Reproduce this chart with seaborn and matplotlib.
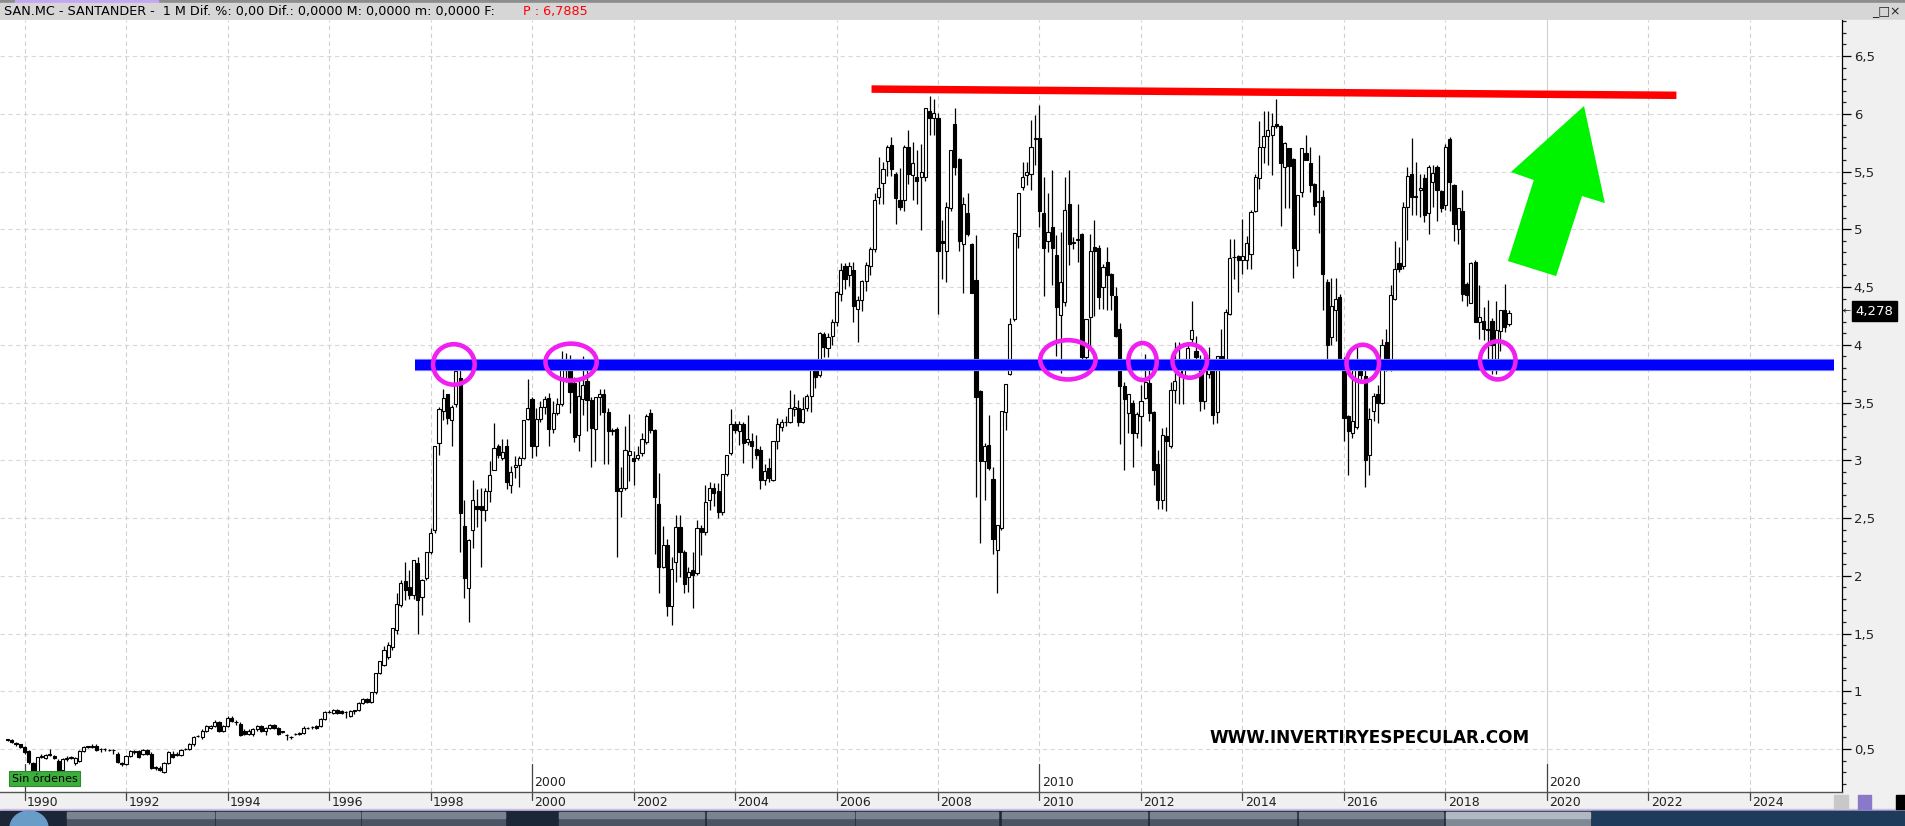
import numpy as np
import pandas as pd
import seaborn as sns
import matplotlib.pyplot as plt
from matplotlib.patches import Rectangle, Ellipse, Polygon
from matplotlib.ticker import MultipleLocator, FuncFormatter

# Monthly candles SAN.MC, Sep 1989 .. Apr 2019 (12 per row)
opens = [
    .58, .58, .55, .54, .52, .48, .38, .31, .43, .42, .45, .44,
    .40, .32, .41, .42, .38, .40, .48, .52, .52, .53, .50, .50,
    .49, .49, .46, .38, .37, .44, .47, .48, .46, .49, .46, .34,
    .34, .30, .38, .46, .45, .45, .50, .50, .54, .61, .60, .66,
    .68, .70, .73, .66, .70, .77, .73, .72, .66, .63, .63, .67,
    .70, .66, .68, .71, .68, .65, .62, .60, .63, .64, .64, .68,
    .69, .70, .70, .76, .82, .81, .84, .83, .82, .79, .83, .84,
    .90, .93, .91, .99, 1.16, 1.23, 1.30, 1.38, 1.53, 1.75, 1.955, 1.90,
    1.83, 2.11, 1.82, 1.98, 2.21, 2.40, 3.15, 3.43, 3.57, 3.35, 3.49, 3.71,
    2.43, 1.89, 2.40, 2.60, 2.60, 2.57, 2.73, 2.92, 3.12, 3.02, 3.12, 2.79,
    2.94, 2.96, 3.02, 3.36, 3.53, 3.12, 3.36, 3.46, 3.54, 3.27, 3.41, 3.49,
    3.85, 3.85, 3.67, 3.22, 3.53, 3.69, 3.52, 3.27, 3.55, 3.57, 3.42, 3.26,
    3.27, 2.73, 2.76, 3.05, 3.02, 3.02, 3.06, 3.16, 3.41, 3.26, 2.62, 2.08,
    2.27, 1.74, 2.12, 2.42, 2.21, 1.99, 2.05, 2.02, 2.41, 2.38, 2.66, 2.76,
    2.73, 2.55, 2.88, 3.06, 3.31, 3.25, 3.31, 3.16, 3.17, 3.10, 3.09, 2.83,
    2.93, 2.83, 3.17, 3.29, 3.33, 3.33, 3.44, 3.45, 3.33, 3.45, 3.56, 3.79,
    3.74, 4.09, 3.97, 4.08, 4.20, 4.44, 4.68, 4.60, 4.65, 4.31, 4.39, 4.55,
    4.68, 4.83, 5.28, 5.40, 5.59, 5.73, 5.48, 5.25, 5.25, 5.71, 5.47, 5.45,
    5.45, 5.45, 6.02, 5.96, 5.96, 4.90, 4.81, 5.18, 5.91, 5.61, 4.87, 5.14,
    4.87, 4.56, 3.60, 2.99, 3.13, 2.84, 2.22, 2.41, 3.42, 3.75, 4.22, 4.94,
    5.37, 5.47, 5.48, 5.78, 5.79, 5.14, 4.90, 5.02, 4.78, 4.26, 4.37, 5.22,
    4.88, 4.91, 4.96, 3.89, 4.24, 4.85, 4.84, 4.50, 4.72, 4.61, 4.42, 4.14,
    3.64, 3.41, 3.50, 3.24, 3.38, 3.54, 3.67, 3.42, 2.97, 2.66, 3.21, 3.12,
    3.61, 3.75, 3.74, 3.87, 4.05, 3.95, 3.85, 3.51, 3.75, 3.85, 3.42, 3.90,
    3.81, 4.27, 4.76, 4.77, 4.73, 4.73, 4.79, 5.16, 5.44, 5.71, 5.81, 5.82,
    5.91, 5.89, 5.54, 5.70, 5.61, 4.82, 5.32, 5.66, 5.57, 5.39, 5.24, 5.28,
    4.54, 4.07, 4.30, 4.41, 3.88, 3.38, 3.24, 3.29, 3.84, 3.73, 3.05, 3.43,
    3.57, 3.50, 4.02, 3.87, 4.40, 4.71, 4.68, 5.19, 5.48, 5.28, 5.34, 5.44,
    5.14, 5.41, 5.54, 5.33, 5.21, 5.78, 5.38, 5.00, 5.16, 4.53, 4.36, 4.72,
    4.20, 4.21, 4.14, 4.21, 3.88, 4.12, 4.30, 4.18,
]
highs = [
    .59, .59, .56, .54, .53, .49, .39, .43, .46, .46, .50, .45,
    .41, .42, .44, .44, .43, .49, .53, .53, .54, .54, .51, .51,
    .50, .50, .47, .39, .45, .49, .49, .49, .50, .50, .47, .35,
    .35, .39, .48, .48, .47, .50, .51, .55, .61, .62, .67, .71,
    .71, .75, .74, .71, .79, .79, .75, .73, .67, .67, .68, .71,
    .71, .69, .72, .72, .69, .66, .63, .61, .64, .65, .70, .69,
    .70, .71, .77, .83, .84, .85, .85, .84, .83, .84, .84, .91,
    .94, .94, .99, 1.16, 1.26, 1.39, 1.43, 1.55, 1.85, 1.96, 2.12, 2.05,
    2.14, 2.16, 1.97, 2.21, 2.41, 3.12, 3.46, 3.62, 3.57, 3.48, 3.86, 3.85,
    2.66, 2.32, 2.83, 2.75, 2.76, 2.76, 2.99, 3.32, 3.14, 3.18, 3.18, 2.95,
    3.04, 3.04, 3.35, 3.70, 3.55, 3.45, 3.51, 3.56, 3.58, 3.51, 3.54, 3.95,
    3.93, 3.91, 3.72, 3.70, 3.90, 3.88, 3.55, 3.55, 3.62, 3.62, 3.45, 3.28,
    3.29, 2.94, 3.30, 3.40, 3.08, 3.12, 3.24, 3.40, 3.44, 3.27, 2.89, 2.43,
    2.32, 2.16, 2.53, 2.53, 2.22, 2.08, 2.21, 2.48, 2.44, 2.79, 2.81, 2.80,
    2.80, 2.88, 3.05, 3.44, 3.34, 3.34, 3.33, 3.39, 3.24, 3.22, 3.12, 2.97,
    3.02, 3.17, 3.37, 3.36, 3.38, 3.61, 3.57, 3.52, 3.55, 3.57, 3.81, 3.80,
    4.11, 4.11, 4.10, 4.22, 4.47, 4.71, 4.71, 4.72, 4.72, 4.42, 4.56, 4.72,
    4.85, 5.31, 5.63, 5.58, 5.73, 5.80, 5.50, 5.53, 5.73, 5.86, 5.76, 5.69,
    5.74, 6.05, 6.15, 6.13, 6.01, 5.08, 5.24, 5.69, 6.05, 5.62, 5.28, 5.31,
    4.88, 4.95, 3.61, 3.15, 3.39, 2.94, 2.44, 3.43, 3.66, 4.23, 4.97, 5.31,
    5.58, 5.58, 5.95, 5.99, 6.08, 5.45, 5.31, 5.51, 4.95, 4.98, 5.45, 5.51,
    4.93, 5.22, 4.97, 4.22, 4.96, 5.08, 4.86, 4.70, 4.85, 4.62, 4.50, 4.19,
    3.68, 3.57, 3.52, 3.42, 3.65, 3.92, 3.82, 3.43, 3.09, 3.28, 3.29, 3.68,
    4.02, 4.02, 3.88, 4.00, 4.38, 4.08, 3.91, 3.91, 3.98, 3.88, 3.90, 4.14,
    4.31, 4.92, 4.92, 4.78, 5.09, 4.94, 5.17, 5.48, 5.94, 6.02, 6.02, 6.01,
    6.13, 5.90, 5.76, 5.70, 5.62, 5.30, 5.70, 5.82, 5.71, 5.40, 5.64, 5.34,
    4.57, 4.58, 4.58, 4.44, 3.89, 3.39, 3.85, 4.00, 3.88, 3.78, 3.45, 3.58,
    3.65, 4.05, 4.14, 4.52, 4.90, 4.85, 5.24, 5.54, 5.79, 5.58, 5.48, 5.48,
    5.56, 5.56, 5.56, 5.34, 5.74, 5.80, 5.39, 5.18, 5.34, 4.54, 4.72, 4.73,
    4.52, 4.33, 4.39, 4.23, 4.38, 4.30, 4.53, 4.30,
]
lows = [
    .57, .55, .53, .51, .46, .37, .28, .30, .42, .41, .44, .41,
    .31, .31, .40, .41, .36, .39, .47, .51, .51, .48, .47, .48,
    .48, .46, .38, .35, .36, .43, .46, .42, .45, .45, .33, .32,
    .31, .29, .37, .42, .44, .44, .49, .49, .53, .60, .59, .65,
    .67, .69, .65, .65, .69, .73, .71, .61, .62, .62, .61, .66,
    .65, .62, .67, .67, .62, .64, .58, .59, .62, .62, .63, .67,
    .67, .67, .69, .75, .81, .80, .80, .80, .77, .78, .80, .83,
    .89, .90, .90, .98, 1.15, 1.22, 1.28, 1.36, 1.50, 1.73, 1.79, 1.80,
    1.80, 1.50, 1.66, 1.96, 2.19, 2.37, 3.05, 3.35, 3.31, 3.12, 3.46, 2.21,
    1.81, 1.60, 2.24, 2.42, 2.08, 2.47, 2.64, 2.92, 3.02, 3.00, 2.75, 2.72,
    2.85, 2.77, 3.01, 3.35, 3.02, 3.04, 3.33, 3.40, 3.12, 3.24, 3.39, 3.47,
    3.68, 3.41, 3.16, 3.08, 3.39, 3.25, 2.94, 2.99, 3.39, 2.97, 2.97, 3.22,
    2.16, 2.51, 2.74, 2.82, 2.79, 3.00, 3.04, 3.14, 3.24, 2.19, 1.85, 2.07,
    1.65, 1.57, 1.95, 1.99, 1.85, 1.86, 1.72, 2.01, 2.18, 2.35, 2.57, 2.60,
    2.50, 2.53, 2.86, 3.05, 3.24, 3.13, 2.98, 3.13, 2.93, 3.01, 2.75, 2.79,
    2.81, 2.82, 3.10, 3.25, 3.30, 3.32, 3.38, 3.30, 3.32, 3.43, 3.42, 3.63,
    3.72, 3.89, 3.89, 4.00, 4.16, 4.38, 4.48, 4.51, 4.20, 4.02, 4.29, 4.47,
    4.60, 4.80, 5.22, 5.22, 5.46, 5.46, 5.05, 5.17, 5.16, 5.39, 5.25, 5.22,
    4.99, 5.42, 5.82, 5.82, 4.27, 4.57, 4.54, 5.16, 5.47, 4.81, 4.45, 4.94,
    4.45, 2.68, 2.28, 2.66, 2.92, 2.19, 1.85, 2.40, 3.26, 3.74, 4.21, 4.84,
    5.34, 5.38, 5.34, 5.56, 5.02, 4.42, 4.80, 4.52, 3.90, 3.76, 4.34, 4.69,
    4.83, 4.72, 3.80, 3.86, 3.96, 4.25, 4.31, 4.31, 4.30, 4.30, 4.07, 3.14,
    2.92, 3.24, 2.94, 3.19, 3.12, 3.53, 3.34, 2.79, 2.58, 2.58, 2.56, 3.11,
    3.50, 3.49, 3.49, 3.79, 4.02, 3.84, 3.43, 3.44, 3.71, 3.31, 3.32, 3.79,
    3.79, 4.26, 4.57, 4.46, 4.61, 4.66, 4.66, 5.15, 5.35, 5.57, 5.56, 5.47,
    5.88, 5.03, 5.18, 5.18, 4.58, 4.68, 5.28, 5.60, 5.32, 5.12, 4.97, 4.30,
    3.86, 4.00, 4.03, 3.88, 3.17, 2.87, 3.19, 3.27, 3.70, 2.77, 2.87, 3.34,
    3.32, 3.49, 3.77, 3.77, 4.39, 4.63, 4.66, 4.91, 5.12, 5.12, 5.11, 5.06,
    4.96, 5.19, 5.07, 5.15, 5.17, 5.16, 4.90, 4.87, 4.38, 4.34, 4.36, 4.20,
    4.05, 4.04, 3.88, 3.75, 3.75, 3.95, 4.11, 4.16,
]
closes = [
    .58, .56, .54, .52, .47, .39, .31, .43, .44, .45, .45, .42,
    .32, .41, .42, .43, .42, .48, .52, .52, .53, .49, .50, .50,
    .49, .49, .39, .37, .44, .48, .48, .43, .49, .46, .34, .34,
    .32, .38, .47, .43, .46, .49, .50, .54, .60, .61, .66, .70,
    .70, .73, .66, .70, .77, .74, .73, .62, .63, .66, .67, .70,
    .66, .68, .71, .68, .63, .65, .62, .60, .63, .63, .68, .68,
    .69, .68, .76, .82, .82, .84, .81, .81, .82, .83, .83, .90,
    .93, .91, .99, 1.16, 1.26, 1.36, 1.40, 1.545, 1.755, 1.94, 1.88, 1.83,
    2.14, 1.79, 1.96, 2.21, 2.37, 3.12, 3.44, 3.54, 3.37, 3.46, 3.77, 2.54,
    1.98, 2.31, 2.66, 2.58, 2.57, 2.73, 2.87, 3.11, 3.05, 3.07, 2.81, 2.90,
    2.96, 3.02, 3.35, 3.45, 3.12, 3.36, 3.46, 3.53, 3.27, 3.41, 3.49, 3.87,
    3.87, 3.59, 3.20, 3.56, 3.65, 3.52, 3.28, 3.55, 3.57, 3.42, 3.25, 3.25,
    2.73, 2.76, 3.09, 3.08, 2.99, 3.05, 3.18, 3.38, 3.26, 2.68, 2.08, 2.27,
    1.74, 2.06, 2.42, 2.21, 1.93, 2.03, 2.01, 2.41, 2.38, 2.64, 2.76, 2.72,
    2.55, 2.88, 3.05, 3.31, 3.26, 3.31, 3.15, 3.18, 3.12, 3.05, 2.83, 2.91,
    2.85, 3.17, 3.31, 3.33, 3.33, 3.45, 3.46, 3.33, 3.44, 3.56, 3.79, 3.72,
    4.10, 3.98, 4.07, 4.20, 4.46, 4.65, 4.57, 4.68, 4.34, 4.39, 4.55, 4.69,
    4.83, 5.25, 5.36, 5.52, 5.71, 5.52, 5.27, 5.19, 5.71, 5.48, 5.57, 5.42,
    5.50, 6.05, 5.96, 6.01, 4.81, 4.88, 5.19, 5.69, 5.54, 4.90, 5.22, 4.96,
    4.45, 3.55, 2.99, 3.12, 2.93, 2.32, 2.44, 3.43, 3.66, 4.18, 4.97, 5.31,
    5.45, 5.50, 5.71, 5.79, 5.16, 4.84, 4.98, 4.84, 4.33, 4.54, 5.17, 4.87,
    4.89, 4.91, 3.89, 4.22, 4.81, 4.81, 4.41, 4.67, 4.60, 4.43, 4.08, 3.64,
    3.53, 3.57, 3.24, 3.40, 3.51, 3.68, 3.41, 2.92, 2.66, 3.22, 3.17, 3.61,
    3.69, 3.86, 3.88, 3.97, 4.13, 3.89, 3.51, 3.82, 3.88, 3.39, 3.90, 3.80,
    4.28, 4.75, 4.76, 4.73, 4.77, 4.88, 5.15, 5.45, 5.71, 5.81, 5.86, 5.89,
    5.89, 5.57, 5.75, 5.55, 4.84, 5.30, 5.70, 5.60, 5.38, 5.20, 5.24, 4.61,
    4.00, 4.34, 4.40, 3.88, 3.37, 3.25, 3.34, 3.85, 3.74, 3.00, 3.36, 3.56,
    3.50, 4.00, 3.87, 4.43, 4.66, 4.66, 5.19, 5.46, 5.28, 5.28, 5.36, 5.12,
    5.54, 5.49, 5.34, 5.18, 5.71, 5.41, 5.05, 5.18, 4.44, 4.43, 4.71, 4.20,
    4.24, 4.14, 4.13, 4.00, 4.13, 4.30, 4.15, 4.278,
]

# hand drawn annotations (years / price)
support_x = [1997.7, 2025.65]
support_y = [3.825, 3.825]
resist_x = [2006.69, 2022.55]
resist_y = [6.214, 6.16]
touch_x = [1998.46, 2000.77, 2010.56, 2012.03, 2012.96, 2016.37, 2019.03]
touch_y = [3.83, 3.85, 3.87, 3.855, 3.86, 3.84, 3.865]
touch_w = [0.82, 1.01, 1.09, 0.56, 0.68, 0.64, 0.70]
touch_h = [0.35, 0.32, 0.34, 0.32, 0.29, 0.32, 0.33]
arrow_x = [2020.73, 2021.14, 2020.69, 2020.18, 2019.23, 2019.74, 2019.29]
arrow_y = [6.067, 5.227, 5.288, 4.595, 4.725, 5.426, 5.496]

last_price = "4,278"
header_txt = "SAN.MC - SANTANDER -  1 M Dif. %: 0,00 Dif.: 0,0000 M: 0,0000 m: 0,0000 F:"
header_red = "P : 6,7885"

dates = pd.date_range("1989-09-01", periods=len(closes), freq="MS")
df = pd.DataFrame({"x": dates.year + (dates.month - 1) / 12,
                   "open": opens, "high": highs, "low": lows, "close": closes})

sns.set_theme(style="white")
plt.rcParams["font.family"] = ["DejaVu Sans"]

W, H = 1905, 826
fig = plt.figure(figsize=(W / 100, H / 100), dpi=100)
fig.patch.set_facecolor("white")


def px_rect(x0, y0, x1, y1, zorder=-5, **kw):
    fig.patches.append(Rectangle((x0 / W, 1 - y1 / H), (x1 - x0) / W, (y1 - y0) / H,
                                 transform=fig.transFigure, zorder=zorder, **kw))


def px_text(x, y, s, **kw):
    fig.text(x / W, 1 - y / H, s, **kw)


# window chrome
px_rect(0, 0, W, 3, color="#8c8c8c")
px_rect(15, 0, 158, 3, color="#c4a6f4")
px_rect(0, 3, W, 20, color="#d6d6d6")
px_rect(1842, 20, W, 811, color="#f0f0f0")
px_rect(0, 792, W, 811, color="#f0f0f0")
px_rect(0, 809, W, 811, color="#cbbbe6")
px_text(4, 12, header_txt, fontsize=9.2, va="center", color="black")
px_text(523, 12, header_red, fontsize=9.2, va="center", color="#ff0000")
px_text(1872, 11, "_□×", fontsize=9, va="center", color="#222")

# taskbar
px_rect(0, 811, W, H, color="#1b2636")
for x0, x1 in [(67, 214), (216, 360), (362, 505), (559, 704), (707, 854), (856, 998),
               (1002, 1147), (1150, 1296), (1299, 1443)]:
    px_rect(x0, 812, x1, H, color="#4a5462")
    px_rect(x0, 812, x1, 818, color="#7a8490")
px_rect(1446, 812, 1590, H, color="#7f8995")
px_rect(1446, 812, 1590, 818, color="#b0b8c2")
px_rect(1592, 811, W, H, color="#1f3b5c")
fig.patches.append(Ellipse((29 / W, 1 - 828 / H), 38 / W, 34 / H,
                           transform=fig.transFigure, color="#6a9cc8", zorder=-4))

# bottom right icons
px_rect(1834, 795, 1848, 808, color="#c8c8c8")
px_rect(1858, 795, 1871, 809, color="#8a78c8")
px_rect(1896, 795, W, 809, color="black")

ax = fig.add_axes([0, 34 / H, 1842 / W, 772 / H])
ax.set_facecolor("white")
ax.set_xlim(1989.517, 2025.813)
ax.set_ylim(0.128, 6.812)

# grid
for v in np.arange(0.5, 6.6, 0.5):
    ax.axhline(v, color="#d9d9d9", lw=0.8, ls=(0, (4, 3)), zorder=0)
for yr in range(1990, 2025, 2):
    ax.axvline(yr, color="#d0d0d0", lw=0.8, ls="-" if yr == 2020 else (0, (4, 3)), zorder=0)

# candles
up = df["close"] >= df["open"]
body_lo = df[["open", "close"]].min(axis=1)
body_h = (df["close"] - df["open"]).abs().clip(lower=0.004)
ax.vlines(df["x"], df["low"], df["high"], color="black", lw=0.9, zorder=2)
ax.bar(df["x"], body_h, bottom=body_lo, width=0.062,
       color=np.where(up, "white", "black"), edgecolor="black", linewidth=0.8, zorder=3)

# support / resistance
sns.lineplot(x=support_x, y=support_y, ax=ax, color="#8a8aff", lw=8.8,
             solid_capstyle="butt", zorder=5)
sns.lineplot(x=support_x, y=support_y, ax=ax, color="#0000ff", lw=7.4,
             solid_capstyle="butt", zorder=5)
sns.lineplot(x=resist_x, y=resist_y, ax=ax, color="#ff0000", lw=5.4,
             solid_capstyle="butt", zorder=5)

for cx, cy, w, h in zip(touch_x, touch_y, touch_w, touch_h):
    ax.add_patch(Ellipse((cx, cy), w, h, fill=False, edgecolor="#f020f0", lw=3.3, zorder=6))

ax.add_patch(Polygon(list(zip(arrow_x, arrow_y)), closed=True, facecolor="#00f400",
                     edgecolor="none", zorder=6))

px_text(1209, 738, "WWW.INVERTIRYESPECULAR.COM", fontsize=12.2, fontweight="bold",
        va="center", color="black")

# axes / ticks
for s in ["left", "top"]:
    ax.spines[s].set_visible(False)
ax.spines["right"].set_color("black")
ax.spines["right"].set_linewidth(0.9)
ax.spines["bottom"].set_color("#555555")
ax.spines["bottom"].set_linewidth(1.0)
ax.yaxis.tick_right()
ax.yaxis.set_major_locator(MultipleLocator(0.5))
ax.yaxis.set_minor_locator(MultipleLocator(0.1))
ax.yaxis.set_major_formatter(FuncFormatter(lambda v, p: ("%g" % v).replace(".", ",")))
ax.tick_params(axis="y", which="major", right=True, labelright=True, length=6.5, width=0.9,
               pad=2, labelsize=9.5, labelcolor="#222222", colors="black", direction="out")
ax.tick_params(axis="y", which="minor", right=True, length=3, width=0.9, direction="out")
ax.set_xticks([])

xt = ax.get_xaxis_transform()
for yr in range(1990, 2025, 2):
    ax.plot([yr, yr], [0, -8 / 772], transform=xt, color="#444444", lw=0.9, clip_on=False)
    ax.text(yr + 0.05, -11 / 772, str(yr), transform=xt, fontsize=9, color="#222222",
            ha="left", va="center", clip_on=False)

for yr in (1990, 2000, 2010, 2020):
    ax.plot([yr, yr], [0, 28 / 772], transform=xt, color="#444444", lw=0.9, zorder=4)
    ax.text(yr + 0.05, 10 / 772, str(yr), transform=xt, fontsize=9, color="#222222",
            ha="left", va="center", zorder=9)

# "Sin ordenes" box
px_rect(9, 771, 80, 786, zorder=7, facecolor="#3cae3c", edgecolor="#2e8a2e", lw=0.8)
px_text(12, 779, "Sin órdenes", fontsize=8, va="center", color="black", zorder=8)

# last price flag
px_rect(1852, 301, 1897, 321, zorder=5, color="black")
px_text(1874.5, 311, last_price, fontsize=9.5, ha="center", va="center", color="white",
        zorder=6)
px_text(1843, 311, "←", fontsize=7, va="center", color="#333333", zorder=6)

fig.savefig("out.png", dpi=100)
